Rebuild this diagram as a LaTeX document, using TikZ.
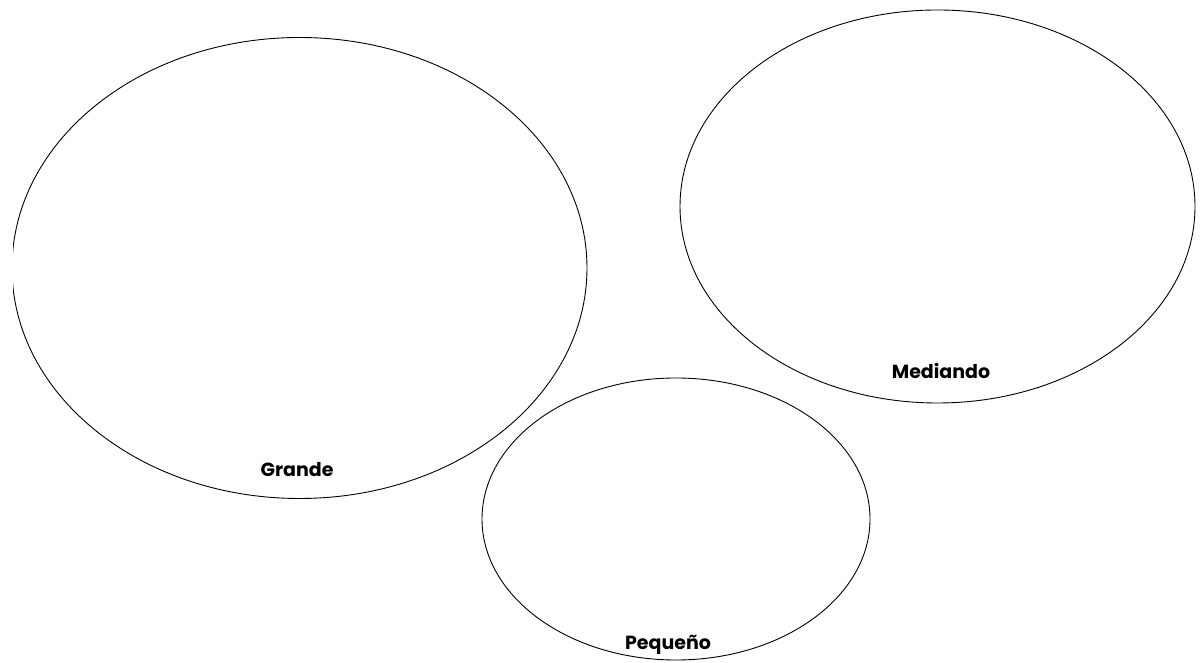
\documentclass[tikz,border=0pt]{standalone}
\usepackage{fontspec}
\setmainfont{Poppins}
\begin{document}
\begin{tikzpicture}[x=1pt,y=1pt,
  oval/.style={draw=black,line width=0.9pt},
  lbl/.style={font=\fontsize{19}{22}\selectfont\bfseries,inner sep=0pt,anchor=base}]
\useasboundingbox[fill=white] (0,0) rectangle (1204,663);
\begin{scope}
\clip (13,0) rectangle (1204,663);
\draw[oval] (299.5,395) ellipse [x radius=287.5, y radius=230.5];
\end{scope}
\draw[oval] (937.5,456.5) ellipse [x radius=257.5, y radius=196.5];
\draw[oval] (676,144) ellipse [x radius=194, y radius=141];
\node[lbl] (g) at (297,186) {Grande};
\node[lbl] (m) at (941,284) {Mediando};
\node[lbl] (p) at (668,13) {Pequeño};
\end{tikzpicture}
\end{document}
